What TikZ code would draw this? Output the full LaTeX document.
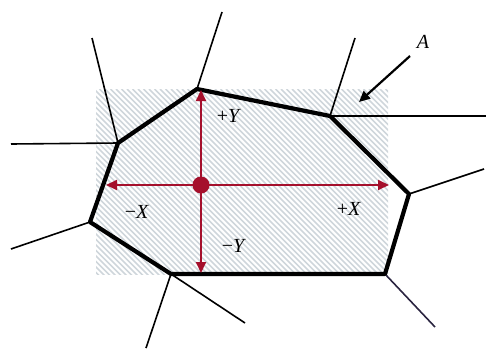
\documentclass[tikz,border=0pt]{standalone}
\usepackage{fontspec}
\setmainfont{Liberation Serif}
\usetikzlibrary{arrows.meta}
\definecolor{hatch}{HTML}{CFD6DB}
\definecolor{dred}{HTML}{A5102C}
\definecolor{edgeline}{HTML}{2A2440}
\begin{document}
\begin{tikzpicture}[x=1pt,y=-1pt,
  cell/.style={line width=4.2pt,line join=round,black},
  ray/.style={line width=1.6pt,black},
  axis/.style={line width=1.9pt,dred,-{Triangle[length=11pt,width=10pt]}},
  lab/.style={font=\fontsize{20}{20}\selectfont,inner sep=0pt}]
\useasboundingbox (0,0) rectangle (486,351);
% hatched rectangle
\begin{scope}
  \clip (96,89) rectangle (388,274);
  \foreach \k in {-200,-194.5,...,300} {
    \draw[hatch,line width=1.6pt] (96+\k,89) -- (96+\k+200,289);
  }
\end{scope}
% vertices
\coordinate (v1) at (197,89);
\coordinate (v2) at (330,116);
\coordinate (v3) at (409,194);
\coordinate (v4) at (385,274);
\coordinate (v5) at (171,274);
\coordinate (v6) at (90,222);
\coordinate (v7) at (118,143);
% ray ends
\coordinate (e1) at (222,12);
\coordinate (e2) at (92,38);
\coordinate (e3) at (11,144);
\coordinate (e4) at (355,38);
\coordinate (e5) at (486,116);
\coordinate (e6) at (484,169);
\coordinate (e7) at (435,327);
\coordinate (e8) at (146,348);
\coordinate (e9) at (245,323);
\coordinate (e10) at (11,249);
\draw[ray] (v1) -- (e1);
\draw[ray] (v7) -- (e2);
\draw[ray] (v7) -- (e3);
\draw[ray] (v2) -- (e4);
\draw[ray] (v2) -- (e5);
\draw[ray] (v3) -- (e6);
\draw[ray,edgeline] (v4) -- (e7);
\draw[ray] (v5) -- (e8);
\draw[ray] (v5) -- (e9);
\draw[ray] (v6) -- (e10);
% cell
\draw[cell] (v1) -- (v2) -- (v3) -- (v4) -- (v5) -- (v6) -- (v7) -- cycle;
% axes
\coordinate (c) at (201,185);
\coordinate (up) at (201,90);
\coordinate (dn) at (201,273);
\coordinate (lf) at (106,185);
\coordinate (rt) at (389,185);
\draw[axis] (c) -- (up);
\draw[axis] (c) -- (dn);
\draw[axis] (c) -- (lf);
\draw[axis] (c) -- (rt);
\fill[dred] (c) circle (8.5);
% labels
\node[lab] (py) at (229,116) {+\textit{Y}};
\node[lab] (my) at (234,246) {−\textit{Y}};
\node[lab] (mx) at (137,212) {−\textit{X}};
\node[lab] (px) at (349,209) {+\textit{X}};
\node[lab] (la) at (423,42) {\textit{A}};
\coordinate (as) at (410,56);
\coordinate (ae) at (359,102);
\draw[line width=2.2pt,-{Triangle[length=11pt,width=10pt]}] (as) -- (ae);
\end{tikzpicture}
\end{document}
